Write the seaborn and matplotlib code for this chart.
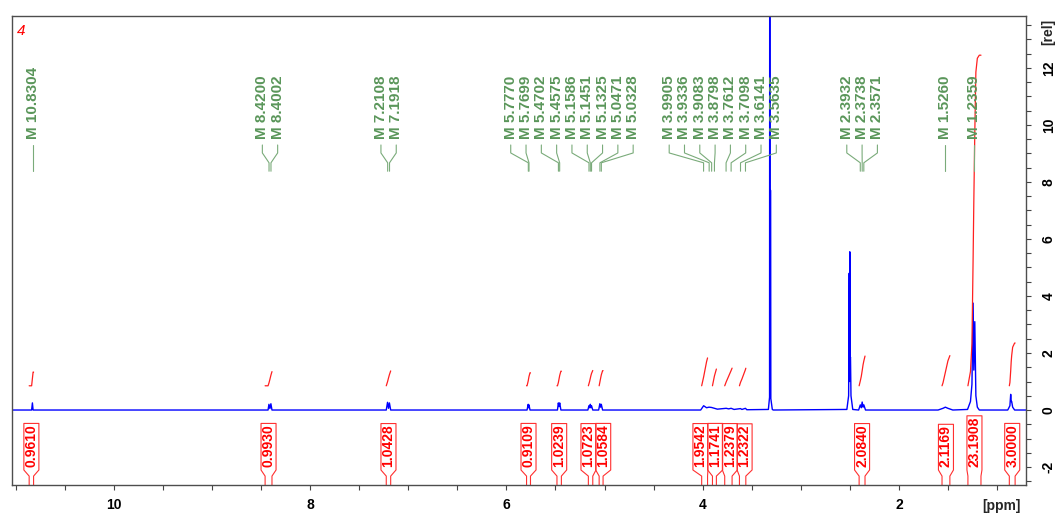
import numpy as np
import pandas as pd
import seaborn as sns
import matplotlib.pyplot as plt
from matplotlib.ticker import MultipleLocator

# 1H spectrum, vertices (ppm, relative intensity)
spec_ppm = [11.04,
            10.840, 10.832, 10.825,
            8.430, 8.421, 8.411, 8.401, 8.390,
            7.225, 7.212, 7.202, 7.193, 7.180,
            5.790, 5.778, 5.774, 5.770, 5.760,
            5.480, 5.471, 5.464, 5.457, 5.445,
            5.170, 5.159, 5.152, 5.145, 5.139, 5.133, 5.120,
            5.060, 5.048, 5.040, 5.033, 5.020,
            4.020, 3.990, 3.960, 3.935, 3.910, 3.880, 3.850, 3.760, 3.735, 3.710,
            3.680, 3.614, 3.600, 3.564, 3.550,
            3.330, 3.318, 3.316, 3.313, 3.311, 3.307, 3.305, 3.290, 3.280,
            2.530, 2.512, 2.506, 2.503, 2.500, 2.497, 2.493, 2.488, 2.470,
            2.410, 2.393, 2.383, 2.374, 2.365, 2.357, 2.340,
            1.600, 1.550, 1.526, 1.500, 1.450,
            1.300, 1.270, 1.255, 1.243, 1.236, 1.226, 1.215, 1.200, 1.180,
            0.890, 0.868, 0.860, 0.855, 0.850, 0.840, 0.820,
            0.700]
spec_rel = [0.0,
            0.0, 0.25, 0.0,
            0.0, 0.20, 0.05, 0.22, 0.0,
            0.0, 0.27, 0.06, 0.25, 0.0,
            0.0, 0.20, 0.08, 0.18, 0.0,
            0.0, 0.25, 0.12, 0.25, 0.0,
            0.0, 0.15, 0.08, 0.20, 0.08, 0.15, 0.0,
            0.0, 0.22, 0.10, 0.20, 0.0,
            0.0, 0.15, 0.08, 0.10, 0.09, 0.06, 0.03, 0.06, 0.04, 0.06,
            0.02, 0.05, 0.02, 0.06, 0.01,
            0.02, 0.45, 22.0, 0.50, 7.70, 7.70, 0.40, 0.02, 0.0,
            0.02, 0.50, 4.80, 1.00, 5.55, 1.80, 1.85, 0.50, 0.02,
            0.0, 0.18, 0.08, 0.28, 0.10, 0.18, 0.0,
            0.0, 0.06, 0.10, 0.06, 0.0,
            0.02, 0.30, 0.90, 3.75, 1.40, 3.10, 0.50, 0.10, 0.0,
            0.0, 0.15, 0.55, 0.30, 0.30, 0.10, 0.0,
            0.0]

# peak picking
pick_ppm = [10.8304, 8.4200, 8.4002, 7.2108, 7.1918,
            5.7770, 5.7699, 5.4702, 5.4575, 5.1586, 5.1451, 5.1325, 5.0471, 5.0328,
            3.9905, 3.9336, 3.9083, 3.8798, 3.7612, 3.7098, 3.6141, 3.5635,
            2.3932, 2.3738, 2.3571, 1.5260, 1.2359]

# integrals
int_start = [10.865, 8.46, 7.225, 5.795, 5.485, 5.165, 5.055, 4.01, 3.90, 3.775, 3.625, 2.405, 1.56, 1.296, 0.874]
int_end = [10.82, 8.39, 7.18, 5.755, 5.44, 5.12, 5.015, 3.95, 3.86, 3.70, 3.56, 2.345, 1.48, 1.163, 0.815]
int_value = [0.9610, 0.9930, 1.0428, 0.9109, 1.0239, 1.0723, 1.0584, 1.9542, 1.1741, 1.2379,
             1.2322, 2.0840, 2.1169, 23.1908, 3.0000]

INT_BASE = 0.85
INT_SCALE = 0.5
GREEN = '#5a965a'
GREEN_LINE = '#7aab7a'
RED = '#ff0000'


def spread(vals, gap):
    # push labels apart so they keep a minimum gap, each group centred on its peaks
    groups = []
    for v in vals:
        groups.append([v, 1])
        while len(groups) > 1:
            s1, n1 = groups[-2]
            s2, n2 = groups[-1]
            end1 = s1 / n1 - (n1 - 1) * gap / 2
            start2 = s2 / n2 + (n2 - 1) * gap / 2
            if end1 - start2 >= gap:
                break
            groups[-2:] = [[s1 + s2, n1 + n2]]
    out = []
    for s, n in groups:
        c = s / n
        out += [c + (n - 1) * gap / 2 - i * gap for i in range(n)]
    return out


def integral_curve(a, b, value):
    # running integral of the spectrum between a (high ppm) and b, scaled to the value
    x = np.array(spec_ppm[::-1])
    y = np.array(spec_rel[::-1])
    inside = (x > b) & (x < a)
    xs = np.concatenate([[b], x[inside], [a]])
    ys = np.concatenate([[np.interp(b, x, y)], y[inside], [np.interp(a, x, y)]])
    xs, ys = xs[::-1], ys[::-1]
    area = np.concatenate([[0], np.cumsum((ys[1:] + ys[:-1]) / 2 * -np.diff(xs))])
    return xs, INT_BASE + INT_SCALE * value * area / area[-1]


sns.set_theme(style='white')
plt.rcParams['font.family'] = ['Liberation Sans', 'DejaVu Sans']
plt.rcParams['axes.unicode_minus'] = False

fig = plt.figure(figsize=(10.61, 5.18), dpi=100)
ax = fig.add_axes([12 / 1061, 33 / 518, 1014 / 1061, 469 / 518])

spec = pd.DataFrame({'ppm': spec_ppm, 'rel': spec_rel})
sns.lineplot(data=spec, x='ppm', y='rel', sort=False, estimator=None,
             color='#0000ff', lw=1.0, ax=ax)

parts = []
for i, (a, b, v) in enumerate(zip(int_start, int_end, int_value)):
    xs, ys = integral_curve(a, b, v)
    parts.append(pd.DataFrame({'region': i, 'ppm': xs, 'rel': ys}))
integ = pd.concat(parts, ignore_index=True)
sns.lineplot(data=integ, x='ppm', y='rel', units='region', estimator=None, sort=False,
             color='#ff2020', lw=0.9, ax=ax)

ax.set_xlim(11.04, 0.704)
ax.set_ylim(-2.63, 13.82)
ax.set_xlabel('')
ax.set_ylabel('')

# axes, ticks
ax.yaxis.tick_right()
ax.set_xticks([10, 8, 6, 4, 2])
ax.set_xticklabels(['10', '8', '6', '4', '2'], fontweight='bold', fontsize=10)
ax.set_yticks(list(range(-2, 13, 2)))
ax.set_yticklabels([str(v) for v in range(-2, 13, 2)], rotation=90, va='center',
                   ha='left', fontweight='bold', fontsize=10)
ax.xaxis.set_minor_locator(MultipleLocator(0.5))
ax.yaxis.set_minor_locator(MultipleLocator(0.5))
ax.tick_params(axis='both', which='both', direction='out', length=3.4, width=0.8,
               color='#444444', labelcolor='black')
ax.tick_params(axis='x', which='both', bottom=True, pad=6)
ax.tick_params(axis='y', which='both', right=True, left=False, pad=8)
for sp in ax.spines.values():
    sp.set_color('#4d4d4d')
    sp.set_linewidth(1.0)

fig.text(1001 / 1061, 1 - 506 / 518, '[ppm]', ha='center', va='center',
         fontsize=10, fontweight='bold')
fig.text(1048 / 1061, 1 - 32 / 518, '[rel]', ha='center', va='center',
         rotation=90, fontsize=10, fontweight='bold')
ax.text(0.009, 0.967, '4', transform=ax.transAxes, ha='center', va='center',
        color=RED, fontsize=11, fontstyle='italic')

xt = ax.get_xaxis_transform()

# peak labels
for p, pos in zip(pick_ppm, spread(pick_ppm, 0.156)):
    ax.text(pos, 0.738, f'M {p:.4f}', transform=xt, rotation=90, ha='center', va='bottom',
            color=GREEN, fontsize=11, fontweight='bold')
    ax.plot([pos, pos, p, p], [0.725, 0.708, 0.687, 0.669], transform=xt,
            color=GREEN_LINE, lw=0.8)

# integral labels
mids = [(a + b) / 2 for a, b in zip(int_start, int_end)]
hw = 7.5 / 98
texts = []
for v, pos in zip(int_value, spread(mids, 0.15)):
    t = ax.text(pos, 0.038, f'{v:.4f}', transform=xt, rotation=90, ha='center', va='bottom',
                color=RED, fontsize=10, fontweight='bold')
    texts.append((t, pos))

fig.canvas.draw()
inv = ax.transAxes.inverted()
for (t, pos), a, b in zip(texts, int_start, int_end):
    bb = t.get_window_extent()
    top = inv.transform((0, bb.y1))[1] + 1 / 469
    ax.plot([a, a, pos + hw, pos + hw, pos - hw, pos - hw, b, b],
            [0, 0.019, 0.032, top, top, 0.032, 0.019, 0],
            transform=xt, color='#ff3030', lw=0.8)

fig.savefig('out.png', dpi=100)
